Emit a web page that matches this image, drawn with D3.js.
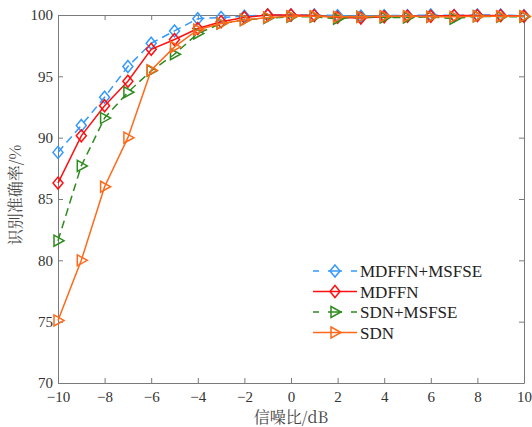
<!DOCTYPE html>
<html>
<head>
<meta charset="utf-8">
<script src="https://cdn.jsdelivr.net/npm/d3@7"></script>
<style>
  body { margin: 0; background: #fff; }
</style>
</head>
<body>
<svg id="chart" width="532" height="427"></svg>
<script>
// SNR (dB) values
const snr = [-10, -9, -8, -7, -6, -5, -4, -3, -2, -1, 0, 1, 2, 3, 4, 5, 6, 7, 8, 9, 10];

// recognition accuracy (%) per model
const mdffnMsfse = [88.8, 91.0, 93.3, 95.8, 97.7, 98.7, 99.7, 99.8, 99.9, 100, 100, 100, 99.95, 99.9, 99.95, 99.95, 100, 99.95, 100, 100, 99.95];
const mdffn      = [86.3, 90.15, 92.6, 94.6, 97.2, 98.0, 98.9, 99.45, 99.8, 100, 100, 99.95, 99.8, 99.75, 99.85, 99.9, 99.9, 99.95, 99.95, 99.95, 99.9];
const sdnMsfse   = [81.6, 87.7, 91.6, 93.7, 95.45, 96.8, 98.5, 99.3, 99.6, 99.75, 99.85, 99.85, 99.7, 99.85, 99.8, 99.8, 99.85, 99.7, 99.9, 99.85, 99.85];
const sdn        = [75.1, 80.0, 86.0, 90.0, 95.5, 97.4, 98.8, 99.3, 99.6, 99.8, 99.9, 99.9, 99.85, 99.85, 99.9, 99.9, 99.85, 99.85, 99.9, 99.9, 99.9];

const xTicks = [-10, -8, -6, -4, -2, 0, 2, 4, 6, 8, 10];
const yTicks = [70, 75, 80, 85, 90, 95, 100];

const series = [
  { name: 'MDFFN+MSFSE', values: mdffnMsfse, color: '#3399ff', dash: '8,5', marker: 'diamond' },
  { name: 'MDFFN',       values: mdffn,      color: '#ff1010', dash: null,  marker: 'diamond' },
  { name: 'SDN+MSFSE',   values: sdnMsfse,   color: '#2e8b1e', dash: '8,5', marker: 'triangle' },
  { name: 'SDN',         values: sdn,        color: '#ff6a1a', dash: null,  marker: 'triangle' }
];

const LATIN = "'Liberation Serif', serif";
const CJK = "'Noto Serif CJK SC', serif";

const margin = { left: 58, right: 8, top: 15, bottom: 44 };
const W = 532, H = 427;
const svg = d3.select('#chart');

const x = d3.scaleLinear().domain([-10, 10]).range([margin.left, W - margin.right]);
const y = d3.scaleLinear().domain([70, 100]).range([H - margin.bottom, margin.top]);

const axisColor = '#7a7a7a';

// axes (ticks point inward, mirrored on top and right)
const gx = svg.append('g').attr('transform', `translate(0,${y(70)})`)
  .call(d3.axisBottom(x).tickValues(xTicks).tickSizeInner(-5).tickSizeOuter(0).tickPadding(8)
    .tickFormat(d => d < 0 ? '\u2212' + Math.abs(d) : d));
const gy = svg.append('g').attr('transform', `translate(${x(-10)},0)`)
  .call(d3.axisLeft(y).tickValues(yTicks).tickSizeInner(-5).tickSizeOuter(0).tickPadding(5));
const gt = svg.append('g').attr('transform', `translate(0,${y(100)})`)
  .call(d3.axisTop(x).tickValues(xTicks).tickSizeInner(-5).tickSizeOuter(0).tickFormat(''));
const gr = svg.append('g').attr('transform', `translate(${x(10)},0)`)
  .call(d3.axisRight(y).tickValues(yTicks).tickSizeInner(-5).tickSizeOuter(0).tickFormat(''));

[gx, gy, gt, gr].forEach(g => {
  g.attr('font-family', LATIN).attr('font-size', 15);
  g.selectAll('path, line').attr('stroke', axisColor).attr('stroke-width', 1);
  g.selectAll('text').attr('font-family', LATIN).attr('font-size', 15).attr('fill', '#333');
});

// axis titles
svg.append('text')
  .attr('x', (x(-10) + x(10)) / 2).attr('y', 423)
  .attr('text-anchor', 'middle')
  .attr('font-family', CJK).attr('font-size', 16).attr('fill', '#444')
  .text('信噪比/dB');
svg.append('text')
  .attr('transform', `translate(21,${(y(70) + y(100)) / 2 - 4}) rotate(-90)`)
  .attr('text-anchor', 'middle')
  .attr('font-family', CJK).attr('font-size', 16).attr('fill', '#444')
  .text('识别准确率/%');

const diamond = 'M0,-6 L5,0 L0,6 L-5,0 Z';
const triangle = 'M-4,-5.5 L6,0 L-4,5.5 Z';
const markerPath = m => m === 'diamond' ? diamond : triangle;

const line = d3.line().x((d, i) => x(snr[i])).y(d => y(d));

const plot = svg.append('g');
series.forEach(s => {
  plot.append('path')
    .datum(s.values)
    .attr('d', line)
    .attr('fill', 'none')
    .attr('stroke', s.color)
    .attr('stroke-width', 1.5)
    .attr('stroke-dasharray', s.dash);
  plot.selectAll(null)
    .data(s.values)
    .join('path')
    .attr('d', markerPath(s.marker))
    .attr('transform', (d, i) => `translate(${x(snr[i])},${y(d)})`)
    .attr('fill', 'none')
    .attr('stroke', s.color)
    .attr('stroke-width', 1.5);
});

// legend
const legend = svg.append('g').attr('transform', 'translate(313,271)');
series.forEach((s, i) => {
  const g = legend.append('g').attr('transform', `translate(0,${i * 20.5})`);
  g.append('line')
    .attr('x1', 0).attr('x2', 44).attr('y1', 0).attr('y2', 0)
    .attr('stroke', s.color).attr('stroke-width', 1.5)
    .attr('stroke-dasharray', s.dash ? '6,9,14,9,6' : null);
  g.append('path')
    .attr('d', markerPath(s.marker))
    .attr('transform', 'translate(22,0)')
    .attr('fill', 'none').attr('stroke', s.color).attr('stroke-width', 1.5);
  g.append('text')
    .attr('x', 47).attr('y', 6)
    .attr('font-family', LATIN).attr('font-size', 17).attr('fill', '#222')
    .text(s.name);
});
</script>
</body>
</html>
